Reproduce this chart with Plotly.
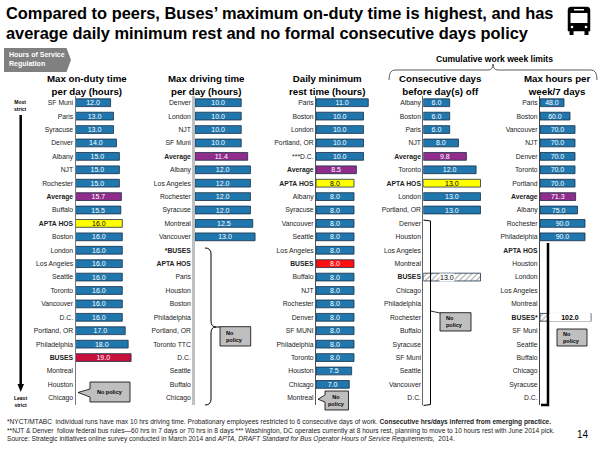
import plotly.graph_objects as go

W, H = 600, 450


def px(x):
    return x / W


def py(y):
    return 1 - y / H


# ---- data ----
duty_labels = ["SF Muni", "Paris", "Syracuse", "Denver", "Albany", "NJT", "Rochester", "Average",
               "Buffalo", "APTA HOS", "Boston", "London", "Los Angeles", "Seattle", "Toronto",
               "Vancouver", "D.C.", "Portland, OR", "Philadelphia", "BUSES", "Montreal",
               "Houston", "Chicago"]
duty_values = [12.0, 13.0, 13.0, 14.0, 15.0, 15.0, 15.0, 15.7, 15.5, 16.0, 16.0, 16.0, 16.0, 16.0,
               16.0, 16.0, 16.0, 17.0, 18.0, 19.0, None, None, None]

drive_labels = ["Denver", "London", "NJT", "SF Muni", "Average", "Albany", "Los Angeles",
                "Rochester", "Syracuse", "Montreal", "Vancouver", "*BUSES", "APTA HOS", "Paris",
                "Houston", "Boston", "Philadelphia", "Portland, OR", "Toronto TTC", "D.C.",
                "Seattle", "Buffalo", "Chicago"]
drive_values = [10.0, 10.0, 10.0, 10.0, 11.4, 12.0, 12.0, 12.0, 12.0, 12.5, 13.0] + [None] * 12

rest_labels = ["Paris", "Boston", "London", "Portland, OR", "***D.C.", "Average", "APTA HOS",
               "Albany", "Syracuse", "Vancouver", "Seattle", "Los Angeles", "BUSES", "Buffalo",
               "NJT", "Rochester", "Denver", "SF MUNI", "Philadelphia", "Toronto", "Houston",
               "Chicago", "Montreal"]
rest_values = [11.0, 10.0, 10.0, 10.0, 10.0, 8.5, 8.0, 8.0, 8.0, 8.0, 8.0, 8.0, 8.0, 8.0, 8.0,
               8.0, 8.0, 8.0, 8.0, 8.0, 7.5, 7.0, None]

days_labels = ["Albany", "Boston", "Paris", "NJT", "Average", "Toronto", "APTA HOS", "London",
               "Portland, OR", "Denver", "Houston", "Los Angeles", "Montreal", "BUSES", "Chicago",
               "Philadelphia", "Rochester", "Buffalo", "Syracuse", "SF Muni", "Seattle",
               "Vancouver", "D.C."]
days_values = [6.0, 6.0, 6.0, 8.0, 9.8, 12.0, 13.0, 13.0, 13.0, None, None, None, None, 13.0,
               None, None, None, None, None, None, None, None, None]

week_labels = ["Paris", "Boston", "Vancouver", "NJT", "Denver", "Toronto", "Portland", "Average",
               "Albany", "Rochester", "Philadelphia", "APTA HOS", "Houston", "London",
               "Los Angeles", "Montreal", "BUSES*", "SF Muni", "Seattle", "Buffalo", "Chicago",
               "Syracuse", "D.C."]
week_values = [48.0, 60.0, 70.0, 70.0, 70.0, 70.0, 70.0, 71.3, 75.0, 90.0, 90.0, None, None, None,
               None, None, 102.0, None, None, None, None, None, None]

BLUE = "#1f77ae"
PURPLE = "#902d8c"
YELLOW = "#ffff00"
EDGE = "#1b2f45"
FONT = "Liberation Sans, Arial"

panels = [
    dict(labels=duty_labels, values=duty_values, x0=75.5, x1=134, rng=20, buses="#c8103c",
         line="#7a7a7a", lw=1),
    dict(labels=drive_labels, values=drive_values, x0=195, x1=262, rng=14.5, buses=None,
         line="#c0c0c0", lw=2.5),
    dict(labels=rest_labels, values=rest_values, x0=316, x1=380, rng=13.47, buses="#ff1010",
         line="#555555", lw=1),
    dict(labels=days_labels, values=days_values, x0=423.3, x1=486, rng=14.25, buses="hatch",
         line="#666666", lw=1),
    dict(labels=week_labels, values=week_values, x0=540, x1=596, rng=112, buses="hatch",
         line="#444444", lw=1),
]

BOLD = {"Average", "APTA HOS", "BUSES"}

fig = go.Figure()
layout = dict(width=W, height=H, margin=dict(l=0, r=0, t=0, b=0),
              plot_bgcolor="white", paper_bgcolor="white", barmode="overlay",
              showlegend=False, uniformtext=dict(minsize=7, mode="show"))
annotations = []
shapes = []

for i, p in enumerate(panels, start=1):
    colors, tcolors, pats, texts = [], [], [], []
    for lab, v in zip(p["labels"], p["values"]):
        key = lab.strip("*")
        pat = ""
        tc = "white"
        if key == "Average":
            c = PURPLE
        elif key == "APTA HOS":
            c, tc = YELLOW, "black"
        elif key == "BUSES" and p["buses"] == "hatch":
            c, pat, tc = "white", "/", "black"
        elif key == "BUSES" and p["buses"]:
            c = p["buses"]
        else:
            c = BLUE
        colors.append(c)
        tcolors.append(tc)
        pats.append(pat)
        if v is None:
            texts.append("")
        elif pat:
            texts.append("")
            # label on a white patch over the hatched bar
            if i == 4:
                annotations.append(dict(x=v * 0.42, y=lab, xref=f"x{i}", yref=f"y{i}",
                                        text=f"{v:.1f}", showarrow=False, bgcolor="white",
                                        borderpad=0,
                                        font=dict(family=FONT, size=7, color="black")))
            else:
                annotations.append(dict(x=px(548.5), y=lab, xref="paper", yref=f"y{i}",
                                        xanchor="left", width=40, height=8,
                                        text=f"<b>{v:.1f}</b>", showarrow=False,
                                        bgcolor="white", borderpad=0,
                                        font=dict(family=FONT, size=7, color="black")))
        else:
            texts.append(f"{v:.1f}")

    fig.add_trace(go.Bar(
        x=p["values"], y=p["labels"], orientation="h",
        xaxis=f"x{i}", yaxis=f"y{i}", width=0.58,
        marker=dict(color=colors, line=dict(color=EDGE, width=0.8),
                    pattern=dict(shape=pats, fgcolor="black", bgcolor=colors,
                                 size=4, solidity=0.25)),
        text=texts, textposition="inside", insidetextanchor="middle", textangle=0,
        textfont=dict(family=FONT, size=7, color=tcolors),
        cliponaxis=False, hoverinfo="skip"))

    n = len(p["labels"])
    sfx = "" if i == 1 else str(i)
    layout["xaxis" + sfx] = dict(domain=[px(p["x0"]), px(p["x1"])], range=[0, p["rng"]],
                                 visible=False, anchor=f"y{i}", fixedrange=True)
    layout["yaxis" + sfx] = dict(
        domain=[py(404.5), py(96)], anchor=f"x{i}", type="category",
        categoryorder="array", categoryarray=p["labels"], range=[n - 0.5, -0.5],
        tickvals=p["labels"],
        ticktext=[f"<b>{l}</b>" if l.strip("*") in BOLD else l for l in p["labels"]],
        tickfont=dict(family=FONT, size=6.8, color="#222222"),
        showgrid=False, zeroline=False, showline=True, linecolor=p["line"],
        linewidth=p["lw"], ticks="", fixedrange=True)


def pp(cmds, close=False):
    out = []
    for c in cmds:
        op, nums = c[0], c[1:]
        pts = [f"{px(nums[k]):.5f},{py(nums[k + 1]):.5f}" for k in range(0, len(nums), 2)]
        out.append(op + " " + " ".join(pts))
    return " ".join(out) + (" Z" if close else "")


def box(x0, y0, x1, y1):
    shapes.append(dict(type="rect", xref="paper", yref="paper", x0=px(x0), x1=px(x1),
                       y0=py(y1), y1=py(y0), fillcolor="#bfbfbf",
                       line=dict(color="black", width=0.8)))


def line_path(cmds, width=1, color="black", fill=None, close=False):
    d = dict(type="path", xref="paper", yref="paper", path=pp(cmds, close),
             line=dict(color=color, width=width))
    if fill:
        d["fillcolor"] = fill
    shapes.append(d)


def note(x, y, text, size=5.5, xanchor="center", align="center", color="black"):
    annotations.append(dict(x=px(x), y=py(y), xref="paper", yref="paper", text=text,
                            showarrow=False, xanchor=xanchor, yanchor="middle", align=align,
                            font=dict(family=FONT, size=size, color=color)))


# ---- title and header ----
note(4, 13, "<b>Compared to peers, Buses’ maximum on-duty time is highest, and has</b>",
     size=16.4, xanchor="left", align="left")
note(4, 33, "<b>average daily minimum rest and no formal consecutive days policy</b>",
     size=16.4, xanchor="left", align="left")

# bus icon
line_path([("M", 571, 7), ("L", 587, 7), ("Q", 590, 7, 590, 10), ("L", 590, 31),
           ("L", 568, 31), ("L", 568, 10), ("Q", 568, 7, 571, 7)], width=0.5,
          fill="black", close=True)
shapes.append(dict(type="rect", xref="paper", yref="paper", x0=px(570.5), x1=px(587.5),
                   y0=py(23), y1=py(13), fillcolor="white", line=dict(width=0)))
shapes.append(dict(type="rect", xref="paper", yref="paper", x0=px(574), x1=px(584),
                   y0=py(10.5), y1=py(9), fillcolor="white", line=dict(width=0)))
for cx in (572, 586):
    shapes.append(dict(type="circle", xref="paper", yref="paper", x0=px(cx - 1.3),
                       x1=px(cx + 1.3), y0=py(28.3), y1=py(25.7), fillcolor="white",
                       line=dict(width=0)))
for wx in (569.5, 584.5):
    shapes.append(dict(type="rect", xref="paper", yref="paper", x0=px(wx), x1=px(wx + 4),
                       y0=py(35), y1=py(31), fillcolor="black", line=dict(width=0)))

# chevron tag
line_path([("M", 4, 48), ("L", 66.5, 48), ("L", 71, 60), ("L", 66.5, 72), ("L", 4, 72)],
          width=0, fill="#808080", close=True)
note(7, 60, "<b>Hours of Service<br>Regulation</b>", size=7, xanchor="left", align="left",
     color="white")

# panel titles
titles = [(86.5, "Max on-duty time<br>per day (hours)"),
          (206.5, "Max driving time<br>per day (hours)"),
          (326.5, "Daily minimum<br>rest time (hours)"),
          (440, "Consecutive days<br>before day(s) off"),
          (557, "Max hours per<br>week/7 days")]
for cx, t in titles:
    note(cx, 85.5, f"<b>{t}</b>", size=9.7)

note(494, 59, "<b>Cumulative work week limits</b>", size=8.6)
line_path([("M", 389, 80), ("Q", 389, 70, 395, 70), ("L", 488, 70), ("Q", 493, 70, 493, 64),
           ("Q", 493, 70, 498, 70), ("L", 591, 70), ("Q", 597, 70, 597, 80)],
          width=0.8, color="#333333")

# strictness arrow
note(20.7, 106, "<b>Most<br>strict</b>", size=5)
line_path([("M", 20.7, 115), ("L", 20.7, 385)], width=2.5)
line_path([("M", 17.5, 384), ("L", 24, 384), ("L", 20.7, 392)], width=0, fill="black",
          close=True)
note(20.7, 401, "<b>Least<br>strict</b>", size=5)

# panel 1 callout
line_path([("M", 90, 382), ("L", 130, 382), ("L", 130, 402), ("L", 90, 402), ("L", 90, 397),
           ("L", 78, 392.5), ("L", 90, 389)], width=0.8, fill="#bfbfbf", close=True)
note(110, 391.5, "<b>No policy</b>", size=5.5)

# panel 2 brace and box
line_path([("M", 205, 248), ("Q", 211, 248, 211, 254), ("L", 211, 321),
           ("Q", 211, 327, 216, 327), ("L", 220, 327), ("M", 216, 327),
           ("Q", 211, 327, 211, 333), ("L", 211, 399), ("Q", 211, 405, 205, 405)], width=1)
box(220, 326.7, 250.7, 346)
note(224, 336.3, "<b>No<br>policy</b>", xanchor="left", align="left")

# panel 3 callout
line_path([("M", 325, 391), ("L", 348.5, 391), ("L", 348.5, 410), ("L", 325, 410),
           ("L", 325, 402), ("L", 318, 399.3), ("L", 325, 395)], width=0.8, fill="#bfbfbf",
          close=True)
note(336.7, 400.5, "<b>No<br>policy</b>")

# panel 4 bracket and box
line_path([("M", 423.5, 220), ("L", 430.5, 221), ("L", 430.5, 404.5), ("L", 423.5, 405.5)],
          width=1)
line_path([("M", 430.5, 311), ("L", 440, 313)], width=0.8)
box(440, 312.7, 471, 331)
note(444, 321.8, "<b>No<br>policy</b>", xanchor="left", align="left")

# panel 5 bar line and box
line_path([("M", 548, 243), ("L", 548, 405), ("L", 541, 405)], width=2.5)
box(557, 329, 587, 346)
note(561, 337.5, "<b>No<br>policy</b>", xanchor="left", align="left")

# footnotes
foot = [
    (421.5, "*NYCT/MTABC  individual runs have max 10 hrs driving time. Probationary employees "
            "restricted to 6 consecutive days of work. <b>Consecutive hrs/days inferred from "
            "emerging practice.</b>"),
    (430.5, "**NJT & Denver  follow federal bus rules—60 hrs in 7 days or 70 hrs in 8 days *** "
            "Washington, DC operates currently at 8 hours rest, planning to move to 10 hours "
            "rest with June 2014 pick."),
    (439, "Source: Strategic initiatives online survey conducted in March 2014 and "
          "<i>APTA, DRAFT Standard for Bus Operator Hours of Service Requirements,</i>  2014."),
]
for y, t in foot:
    annotations.append(dict(x=px(5), y=py(y), xref="paper", yref="paper", text=t,
                            showarrow=False, xanchor="left", yanchor="middle", align="left",
                            font=dict(family=FONT, size=6.6, color="#222222")))
note(583, 434, "14", size=10)

layout["annotations"] = annotations
layout["shapes"] = shapes
fig.update_layout(**layout)
fig.write_html("out.html", config={"displayModeBar": False},
               post_script="document.body.style.margin='0px';")
